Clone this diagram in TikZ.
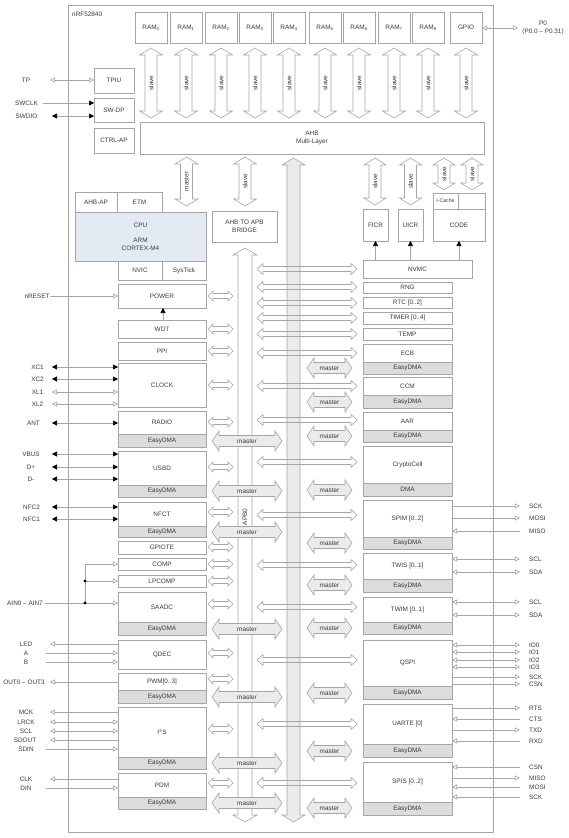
\documentclass[tikz,border=0pt]{standalone}
\usepackage{fontspec}
\setmainfont{Liberation Sans}
\usetikzlibrary{arrows.meta}
\definecolor{lc}{HTML}{A6A6A6}
\definecolor{tc}{HTML}{3A3A3A}
\definecolor{dma}{HTML}{DCDCDC}
\definecolor{mf}{HTML}{EBEBEB}
\definecolor{cpuf}{HTML}{E4EAF4}
\definecolor{busf}{HTML}{EBEBEB}
\newcommand\dfont{\fontsize{6.4}{7.8}\selectfont}
\newcommand\sfont{\fontsize{5.2}{6}\selectfont}
\tikzset{
 box/.style={draw=lc, line width=0.6pt, inner sep=0pt, outer sep=0pt, text=tc, font=\dfont, align=center},
 dmabox/.style={box, fill=dma},
 fat/.style={draw=lc, line width=0.6pt, fill=white},
 mfat/.style={fat, fill=mf},
 sig/.style={draw=lc, line width=0.6pt},
 lbl/.style={text=tc, font=\dfont, inner sep=0pt, align=center},
 ho/.tip={Triangle[open,length=5pt,width=5pt]},
 hf/.tip={Triangle[length=5pt,width=5pt,color=black]}
}
% box: [style]{name}{x1}{y1}{x2}{y2}{text}
\newcommand\blk[7][]{\node[box,#1,minimum width={#5pt-#3pt},minimum height={#6pt-#4pt}] (#2) at ({(#3+#5)/2},{(#4+#6)/2}) {#7};}
% vertical fat double arrow: [style]{xc}{y1}{y2}{shaft half}{head half}{head len}{text}
\newcommand\vfat[8][]{%
 \draw[fat,#1] (#2,#3) -- ({#2+#6},{#3+#7}) -- ({#2+#5},{#3+#7}) -- ({#2+#5},{#4-#7}) -- ({#2+#6},{#4-#7}) -- (#2,#4) -- ({#2-#6},{#4-#7}) -- ({#2-#5},{#4-#7}) -- ({#2-#5},{#3+#7}) -- ({#2-#6},{#3+#7}) -- cycle;
 \node[lbl,rotate=90] at (#2,{(#3+#4)/2}) {#8};}
% horizontal fat double arrow: [style]{yc}{x1}{x2}{shaft half}{head half}{head len}{text}
\newcommand\hfat[8][]{%
 \draw[fat,#1] (#3,#2) -- ({#3+#7},{#2-#6}) -- ({#3+#7},{#2-#5}) -- ({#4-#7},{#2-#5}) -- ({#4-#7},{#2-#6}) -- (#4,#2) -- ({#4-#7},{#2+#6}) -- ({#4-#7},{#2+#5}) -- ({#3+#7},{#2+#5}) -- ({#3+#7},{#2+#6}) -- cycle;
 \node[lbl] at ({(#3+#4)/2},#2) {#8};}
% left signal: {name}{label x}{y}{text}{line start x}{target}{arrows}
\newcommand\lsig[7]{\node[lbl] (l#1) at (#2,#3) {#4}; \coordinate (c#1) at (#5,#3); \draw[sig,#7] (c#1) -- (#6.west |- c#1);}
% right signal: {name}{y}{text}{source}{arrows}
\newcommand\rsig[5]{\node[lbl,anchor=west] (l#1) at (529,#2) {#3}; \coordinate (c#1) at (520,#2); \draw[sig,#5] (#4.east |- c#1) -- (c#1);}
\begin{document}
\begin{tikzpicture}[x=1pt,y=-1pt]
\fill[white] (0,0) rectangle (568,838);
\useasboundingbox (0,0) rectangle (568,838);

% chip outline
\blk{chip}{68}{5}{493}{832}{}
\node[lbl,anchor=west] (title) at (72,14) {nRF52840};

% RAM row
\blk{ram0}{135}{12}{167}{43}{RAM\textsubscript{0}}
\blk{ram1}{170}{12}{202}{43}{RAM\textsubscript{1}}
\blk{ram2}{205}{12}{237}{43}{RAM\textsubscript{2}}
\blk{ram3}{239}{12}{271}{43}{RAM\textsubscript{3}}
\blk{ram4}{273}{12}{305}{43}{RAM\textsubscript{4}}
\blk{ram5}{309}{12}{341}{43}{RAM\textsubscript{5}}
\blk{ram6}{343}{12}{375}{43}{RAM\textsubscript{6}}
\blk{ram7}{378}{12}{410}{43}{RAM\textsubscript{7}}
\blk{ram8}{412}{12}{444}{43}{RAM\textsubscript{8}}
\blk{gpio}{450}{12}{482}{43}{GPIO}
\foreach \xc in {151,186,221,255,289,325,359,394,428,466}
  {\vfat{\xc}{48}{118}{6}{11.5}{7}{slave}}

% P0
\node[lbl] (lp0) at (543,28) {P0\\[1pt](P0.0 – P0.31)};
\coordinate (cp0) at (518,28);
\draw[sig,ho-ho] (gpio.east |- cp0) -- (cp0);

% debug blocks
\blk{tpiu}{94}{68}{134}{93}{TPIU}
\blk{swdp}{94}{98}{134}{122}{SW-DP}
\blk{ctrlap}{94}{128}{134}{153}{CTRL-AP}
\blk{ahb}{140}{122}{484}{154}{AHB\\Multi-Layer}

\lsig{tp}{26}{80}{TP}{50}{tpiu}{ho-ho}
\lsig{swclk}{26.5}{103}{SWCLK}{43}{swdp}{-hf}
\lsig{swdio}{26.5}{116}{SWDIO}{52}{swdp}{hf-hf}

% buses
\vfat[fill=busf]{293.5}{158}{822}{6.5}{11.5}{7}{}
\vfat{245}{248}{822}{7}{12}{7}{}
\node[lbl,rotate=90] (apb) at (245,517) {APB0};

% arrows below AHB
\vfat{186.5}{157}{206}{6}{11.5}{7}{master}
\vfat{245}{157}{206}{6}{11.5}{7}{slave}
\vfat{375}{158}{205}{6}{11}{7}{slave}
\vfat{410.5}{158}{205}{6}{11}{7}{slave}
\vfat{444}{158}{190}{6}{11}{7}{slave}
\vfat{472}{158}{190}{6}{11}{7}{slave}

% CPU group
\blk{ahbap}{75}{192}{117}{212}{AHB-AP}
\blk{etm}{117}{192}{162}{212}{ETM}
\blk[fill=cpuf]{cpu}{75}{212}{206}{261}{CPU\\[7pt]ARM\\CORTEX-M4}
\blk{nvic}{118}{261}{162}{280}{NVIC}
\blk{systick}{162}{261}{206}{280}{SysTick}
\blk{bridge}{212}{211}{277}{242}{AHB TO APB\\BRIDGE}

% memories
\blk{ficr}{363}{209}{388}{241}{FICR}
\blk{uicr}{398}{209}{423}{241}{UICR}
\blk[font=\sfont]{icache}{433}{193}{458}{209}{I-Cache}
\blk{icache2}{458}{193}{485}{209}{}
\blk{code}{433}{209}{485}{241}{CODE}
\blk{nvmc}{363}{260}{472}{278}{NVMC}
\draw[sig,-hf] (ficr.south |- nvmc.north) -- (ficr.south);
\draw[sig,-hf] (uicr.south |- nvmc.north) -- (uicr.south);
\draw[sig,-hf] (code.south |- nvmc.north) -- (code.south);

% left column
\blk{power}{118}{284}{206}{308}{POWER}
\blk{wdt}{118}{320}{206}{338}{WDT}
\blk{ppi}{118}{342}{206}{360}{PPI}
\blk{clock}{118}{363}{206}{407}{CLOCK}
\blk{radio}{118}{411}{206}{434}{RADIO}
\blk[fill=dma]{radiodma}{118}{434}{206}{447}{EasyDMA}
\blk{usbd}{118}{451}{206}{485}{USBD}
\blk[fill=dma]{usbddma}{118}{485}{206}{497}{EasyDMA}
\blk{nfct}{118}{502}{206}{526}{NFCT}
\blk[fill=dma]{nfctdma}{118}{526}{206}{537}{EasyDMA}
\blk{gpiote}{118}{541}{206}{554}{GPIOTE}
\blk{comp}{118}{558}{206}{570}{COMP}
\blk{lpcomp}{118}{575}{206}{587}{LPCOMP}
\blk{saadc}{118}{592}{206}{622}{SAADC}
\blk[fill=dma]{saadcdma}{118}{622}{206}{635}{EasyDMA}
\blk{qdec}{118}{640}{206}{669}{QDEC}
\blk{pwm}{118}{673}{206}{690}{PWM[0..3]}
\blk[fill=dma]{pwmdma}{118}{690}{206}{703}{EasyDMA}
\blk{i2s}{118}{707}{206}{757}{I\textsuperscript{2}S}
\blk[fill=dma]{i2sdma}{118}{757}{206}{769}{EasyDMA}
\blk{pdm}{118}{773}{206}{797}{PDM}
\blk[fill=dma]{pdmdma}{118}{797}{206}{809}{EasyDMA}

\coordinate (cwdt) at (163,320);
\draw[sig,-hf] (cwdt) -- (cwdt |- power.south);

% right column
\blk{rng}{363}{282}{452}{293}{RNG}
\blk{rtc}{363}{297}{452}{308}{RTC [0..2]}
\blk{timer}{363}{312}{452}{324}{TIMER [0..4]}
\blk{temp}{363}{328}{452}{340}{TEMP}
\blk{ecb}{363}{344}{452}{362}{ECB}
\blk[fill=dma]{ecbdma}{363}{362}{452}{374}{EasyDMA}
\blk{ccm}{363}{377}{452}{395}{CCM}
\blk[fill=dma]{ccmdma}{363}{395}{452}{408}{EasyDMA}
\blk{aar}{363}{412}{452}{430}{AAR}
\blk[fill=dma]{aardma}{363}{430}{452}{442}{EasyDMA}
\blk{crypto}{363}{446}{452}{483}{CryptoCell}
\blk[fill=dma]{cryptodma}{363}{483}{452}{496}{DMA}
\blk{spim}{363}{500}{452}{537}{SPIM [0..2]}
\blk[fill=dma]{spimdma}{363}{537}{452}{549}{EasyDMA}
\blk{twis}{363}{553}{452}{579}{TWIS [0..1]}
\blk[fill=dma]{twisdma}{363}{579}{452}{592}{EasyDMA}
\blk{twim}{363}{597}{452}{622}{TWIM [0..1]}
\blk[fill=dma]{twimdma}{363}{622}{452}{634}{EasyDMA}
\blk{qspi}{363}{640}{452}{686}{QSPI}
\blk[fill=dma]{qspidma}{363}{686}{452}{699}{EasyDMA}
\blk{uarte}{363}{704}{452}{744}{UARTE [0]}
\blk[fill=dma]{uartedma}{363}{744}{452}{757}{EasyDMA}
\blk{spis}{363}{762}{452}{802}{SPIS [0..2]}
\blk[fill=dma]{spisdma}{363}{802}{452}{815}{EasyDMA}

% long right arrows (bus to right peripherals)
\foreach \yc in {269,287,303,318,334,353,386,420,462,515,565,607,660,724,783}
  {\hfat[fill=none]{\yc}{257}{357}{2.5}{5.5}{6}{}}
% small left arrows
\foreach \yc in {296,329,351,385,422,467,512,547,564,581,604,653,679,729,783}
  {\hfat{\yc}{208}{233}{2.5}{5}{5}{}}
% master arrows
\foreach \yc in {441,491,532,629,697,763,803}
  {\hfat[mfat]{\yc}{212}{282}{5.5}{10}{7}{master}}
\foreach \yc in {368,402,436,490,543,585,628,693,751,808}
  {\hfat[mfat]{\yc}{307}{352}{5.5}{10}{7}{master}}

% left signals
\lsig{nreset}{37}{296}{nRESET}{50}{power}{-ho}
\lsig{xca}{37.5}{367}{XC1}{52}{clock}{hf-hf}
\lsig{xcb}{37.5}{379}{XC2}{52}{clock}{hf-hf}
\lsig{xla}{37.5}{392}{XL1}{52}{clock}{ho-ho}
\lsig{xlb}{37.5}{404}{XL2}{52}{clock}{ho-ho}
\lsig{ant}{33.5}{423}{ANT}{52}{radio}{hf-hf}
\lsig{vbus}{31}{454}{VBUS}{52}{usbd}{hf-hf}
\lsig{dp}{31}{467}{D+}{52}{usbd}{hf-hf}
\lsig{dm}{31}{479}{D-}{52}{usbd}{hf-hf}
\lsig{nfcb}{31.5}{507}{NFC2}{52}{nfct}{hf-hf}
\lsig{nfca}{31.5}{519}{NFC1}{52}{nfct}{hf-hf}
\lsig{ain}{25}{603}{AIN0 – AIN7}{45}{saadc}{-ho}
\coordinate (jain) at (85,603);
\coordinate (jlp) at (85,581);
\coordinate (jcomp) at (85,564);
\draw[sig,-ho] (jain) -- (jcomp) -- (comp.west |- jcomp);
\draw[sig,-ho] (jlp) -- (lpcomp.west |- jlp);
\fill[black] (jain) circle (1.6) (jlp) circle (1.6);
\lsig{led}{26}{644}{LED}{50}{qdec}{ho-}
\lsig{qa}{26}{653}{A}{46}{qdec}{-ho}
\lsig{qb}{26}{662}{B}{46}{qdec}{-ho}
\lsig{out}{24}{682}{OUT0 – OUT3}{50}{pwm}{ho-}
\lsig{mck}{26}{712}{MCK}{50}{i2s}{ho-}
\lsig{lrck}{26}{722}{LRCK}{50}{i2s}{ho-ho}
\lsig{iscl}{26}{731}{SCL}{50}{i2s}{ho-ho}
\lsig{sdout}{25}{740}{SDOUT}{50}{i2s}{ho-}
\lsig{sdin}{26}{749}{SDIN}{46}{i2s}{-ho}
\lsig{clk}{26}{779}{CLK}{50}{pdm}{ho-}
\lsig{din}{26}{788}{DIN}{46}{pdm}{-ho}

% right signals
\rsig{spimsck}{506}{SCK}{spim}{-ho}
\rsig{spimmosi}{518}{MOSI}{spim}{-ho}
\rsig{spimmiso}{531}{MISO}{spim}{ho-}
\rsig{twisscl}{559}{SCL}{twis}{ho-ho}
\rsig{twissda}{572}{SDA}{twis}{ho-ho}
\rsig{twimscl}{602}{SCL}{twim}{ho-ho}
\rsig{twimsda}{615}{SDA}{twim}{ho-ho}
\rsig{ioa}{645}{IO0}{qspi}{ho-ho}
\rsig{iob}{652}{IO1}{qspi}{ho-ho}
\rsig{ioc}{660}{IO2}{qspi}{ho-ho}
\rsig{iod}{667}{IO3}{qspi}{ho-ho}
\rsig{qsck}{677}{SCK}{qspi}{-ho}
\rsig{qcsn}{684}{CSN}{qspi}{-ho}
\rsig{rts}{708}{RTS}{uarte}{-ho}
\rsig{cts}{719}{CTS}{uarte}{ho-}
\rsig{txd}{730}{TXD}{uarte}{-ho}
\rsig{rxd}{741}{RXD}{uarte}{ho-}
\rsig{scsn}{767}{CSN}{spis}{ho-}
\rsig{smiso}{778}{MISO}{spis}{-ho}
\rsig{smosi}{787}{MOSI}{spis}{ho-}
\rsig{ssck}{797}{SCK}{spis}{ho-}
\end{tikzpicture}
\end{document}
